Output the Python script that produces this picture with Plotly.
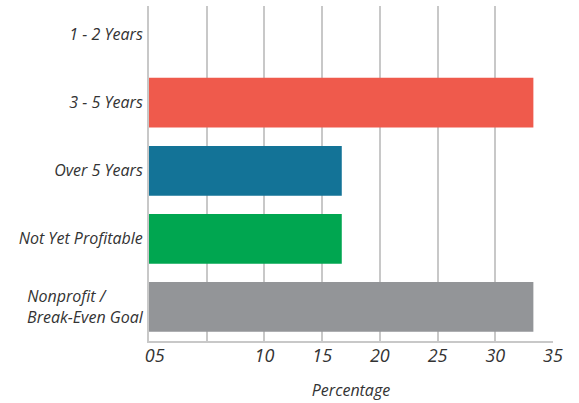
import plotly.graph_objects as go

categories = ["1 - 2 Years", "3 - 5 Years", "Over 5 Years", "Not Yet Profitable",
              "Nonprofit /" + "&nbsp;" * 9 + "<br>Break-Even Goal"]
values = [0, 33.3, 16.7, 16.7, 33.3]
colors = ["#EF5A4C", "#EF5A4C", "#137397", "#00A650", "#939598"]
tick_vals = [0.5, 10, 15, 20, 25, 30, 35]
tick_text = ["05", "10", "15", "20", "25", "30", "35"]
grid_vals = [0, 5, 10, 15, 20, 25, 30, 35]

font_family = "Open Sans"
grid_color = "#C8C8C8"

fig = go.Figure(go.Bar(
    x=values,
    y=categories,
    orientation="h",
    marker=dict(color=colors, line=dict(width=0)),
    hoverinfo="skip",
))

fig.update_layout(
    width=579,
    height=403,
    margin=dict(l=149, r=26, t=6, b=56),
    paper_bgcolor="white",
    plot_bgcolor="white",
    bargap=0.27,
    showlegend=False,
    font=dict(family=font_family, color="#333333"),
)

fig.update_xaxes(
    range=[0, 35],
    tickmode="array",
    tickvals=tick_vals,
    ticktext=tick_text,
    showgrid=False,
    zeroline=False,
    showline=True,
    linecolor=grid_color,
    linewidth=2,
    ticks="",
    ticklabelstandoff=-3,
    tickfont=dict(family=font_family, size=18, style="italic", color="#333333"),
    minor=dict(tickmode="array", tickvals=grid_vals, showgrid=True,
               gridcolor=grid_color, gridwidth=2, ticks=""),
    title=dict(text="Percentage", standoff=19,
               font=dict(family=font_family, size=16, style="italic", color="#333333")),
)

# top row sits partly above the grid area, so the category range starts just below -0.5
fig.update_yaxes(
    range=[4.5, -0.42],
    showgrid=False,
    zeroline=False,
    showline=True,
    linecolor=grid_color,
    linewidth=2,
    ticks="",
    ticklabelstandoff=1,
    tickfont=dict(family=font_family, size=16, style="italic", color="#333333"),
)

fig.write_html("out.html")
